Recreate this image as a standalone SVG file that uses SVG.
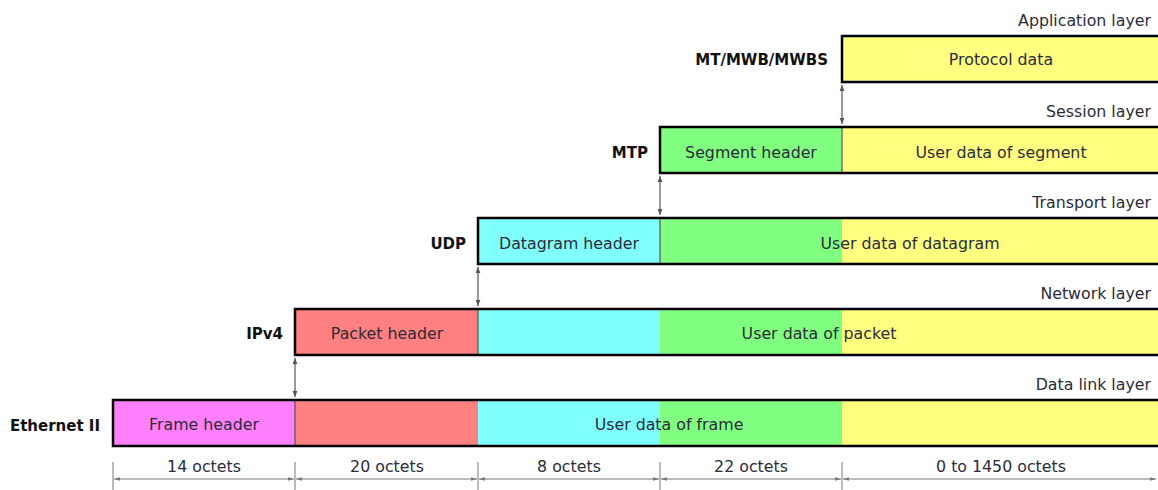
<svg xmlns="http://www.w3.org/2000/svg" width="1158" height="490" viewBox="0 0 1158 490">
  <style>
    .lbl { font-family: "DejaVu Sans", sans-serif; font-size: 15.8px; fill: #2b2b3a; }
    .hdr { font-family: "DejaVu Sans", sans-serif; font-size: 15px; font-weight: bold; fill: #111; text-anchor: end; }
    .layer { font-family: "DejaVu Sans", sans-serif; font-size: 15.8px; fill: #2b2b3a; text-anchor: end; }
    .mid { text-anchor: middle; }
    .frame { fill: none; stroke: #000; stroke-width: 2.5; }
    .sep { stroke: #555; stroke-width: 1.2; }
    .conn { stroke: #555; stroke-width: 1.2; fill: none; marker-start: url(#ah); marker-end: url(#ah); }
    .dim { stroke: #777; stroke-width: 1; fill: none; }
  </style>
  <defs>
    <marker id="ah" viewBox="0 0 10 10" refX="10" refY="5" markerWidth="6" markerHeight="6" orient="auto-start-reverse" markerUnits="userSpaceOnUse">
      <path d="M0,1 L10,5 L0,9 z" fill="#555"/>
    </marker>
    <marker id="dh" viewBox="0 0 10 10" refX="10" refY="5" markerWidth="6" markerHeight="6" orient="auto-start-reverse" markerUnits="userSpaceOnUse">
      <path d="M0,2 L10,5 L0,8 z" fill="#777"/>
    </marker>
  </defs>

  <!-- Application layer -->
  <g id="application">
    <text class="layer" x="1151" y="26">Application layer</text>
    <rect x="842" y="36" width="320" height="46" fill="#ffff80"/>
    <path class="frame" d="M1160,36 H842 V82 H1160"/>
    <text class="hdr" x="828" y="65">MT/MWB/MWBS</text>
    <text class="lbl mid" x="1001" y="65">Protocol data</text>
  </g>

  <!-- Session layer -->
  <g id="session">
    <text class="layer" x="1151" y="117">Session layer</text>
    <rect x="660" y="127" width="182" height="46" fill="#80ff80"/>
    <rect x="842" y="127" width="320" height="46" fill="#ffff80"/>
    <line class="sep" x1="842" y1="127" x2="842" y2="173"/>
    <path class="frame" d="M1160,127 H660 V173 H1160"/>
    <text class="hdr" x="648" y="158">MTP</text>
    <text class="lbl mid" x="751" y="158">Segment header</text>
    <text class="lbl mid" x="1001" y="158">User data of segment</text>
  </g>

  <!-- Transport layer -->
  <g id="transport">
    <text class="layer" x="1151" y="208">Transport layer</text>
    <rect x="478" y="218" width="182" height="46" fill="#80ffff"/>
    <rect x="660" y="218" width="182" height="46" fill="#80ff80"/>
    <rect x="842" y="218" width="320" height="46" fill="#ffff80"/>
    <line class="sep" x1="660" y1="218" x2="660" y2="264"/>
    <path class="frame" d="M1160,218 H478 V264 H1160"/>
    <text class="hdr" x="466" y="249">UDP</text>
    <text class="lbl mid" x="569" y="249">Datagram header</text>
    <text class="lbl mid" x="910" y="249">User data of datagram</text>
  </g>

  <!-- Network layer -->
  <g id="network">
    <text class="layer" x="1151" y="299">Network layer</text>
    <rect x="295" y="309" width="183" height="46" fill="#ff8080"/>
    <rect x="478" y="309" width="182" height="46" fill="#80ffff"/>
    <rect x="660" y="309" width="182" height="46" fill="#80ff80"/>
    <rect x="842" y="309" width="320" height="46" fill="#ffff80"/>
    <line class="sep" x1="478" y1="309" x2="478" y2="355"/>
    <path class="frame" d="M1160,309 H295 V355 H1160"/>
    <text class="hdr" x="283" y="339">IPv4</text>
    <text class="lbl mid" x="387" y="339">Packet header</text>
    <text class="lbl mid" x="819" y="339">User data of packet</text>
  </g>

  <!-- Data link layer -->
  <g id="datalink">
    <text class="layer" x="1151" y="390">Data link layer</text>
    <rect x="113" y="400" width="182" height="46" fill="#ff80ff"/>
    <rect x="295" y="400" width="183" height="46" fill="#ff8080"/>
    <rect x="478" y="400" width="182" height="46" fill="#80ffff"/>
    <rect x="660" y="400" width="182" height="46" fill="#80ff80"/>
    <rect x="842" y="400" width="320" height="46" fill="#ffff80"/>
    <line class="sep" x1="295" y1="400" x2="295" y2="446"/>
    <path class="frame" d="M1160,400 H113 V446 H1160"/>
    <text class="hdr" x="100" y="431">Ethernet II</text>
    <text class="lbl mid" x="204" y="430">Frame header</text>
    <text class="lbl mid" x="669" y="430">User data of frame</text>
  </g>

  <!-- Encapsulation connectors -->
  <g id="connectors">
    <line class="conn" x1="842" y1="85" x2="842" y2="124"/>
    <line class="conn" x1="660" y1="176" x2="660" y2="215"/>
    <line class="conn" x1="478" y1="267" x2="478" y2="306"/>
    <line class="conn" x1="295" y1="358" x2="295" y2="397"/>
  </g>

  <!-- Field sizes -->
  <g id="sizes">
    <g class="dim">
      <line x1="113" y1="462" x2="113" y2="490"/>
      <line x1="295" y1="462" x2="295" y2="490"/>
      <line x1="478" y1="462" x2="478" y2="490"/>
      <line x1="660" y1="462" x2="660" y2="490"/>
      <line x1="842" y1="462" x2="842" y2="490"/>
    </g>
    <line class="dim" x1="114" y1="479" x2="294" y2="479" marker-start="url(#dh)" marker-end="url(#dh)"/>
    <line class="dim" x1="296" y1="479" x2="477" y2="479" marker-start="url(#dh)" marker-end="url(#dh)"/>
    <line class="dim" x1="479" y1="479" x2="659" y2="479" marker-start="url(#dh)" marker-end="url(#dh)"/>
    <line class="dim" x1="661" y1="479" x2="841" y2="479" marker-start="url(#dh)" marker-end="url(#dh)"/>
    <line class="dim" x1="843" y1="479" x2="1156" y2="479" marker-start="url(#dh)" marker-end="url(#dh)"/>
    <text class="lbl mid" x="204" y="472">14 octets</text>
    <text class="lbl mid" x="387" y="472">20 octets</text>
    <text class="lbl mid" x="569" y="472">8 octets</text>
    <text class="lbl mid" x="751" y="472">22 octets</text>
    <text class="lbl mid" x="1001" y="472">0 to 1450 octets</text>
  </g>
</svg>
